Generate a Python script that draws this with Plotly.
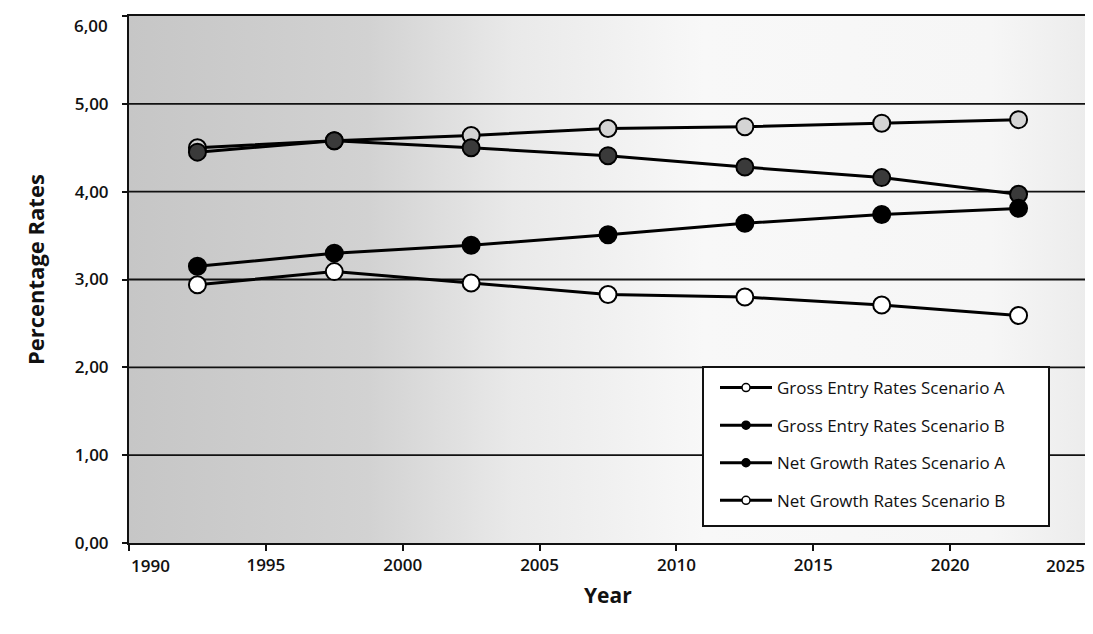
import plotly.graph_objects as go

years = [1992.5, 1997.5, 2002.5, 2007.5, 2012.5, 2017.5, 2022.5]
gross_entry_a = [4.50, 4.58, 4.64, 4.72, 4.74, 4.78, 4.82]
gross_entry_b = [4.45, 4.58, 4.50, 4.41, 4.28, 4.16, 3.97]
net_growth_a = [3.15, 3.30, 3.39, 3.51, 3.64, 3.74, 3.81]
net_growth_b = [2.94, 3.09, 2.96, 2.83, 2.80, 2.71, 2.59]

series_names = ["Gross Entry Rates Scenario A", "Gross Entry Rates Scenario B",
                "Net Growth Rates Scenario A", "Net Growth Rates Scenario B"]
series_values = [gross_entry_a, gross_entry_b, net_growth_a, net_growth_b]
marker_fills = ["#d4d4d4", "#3a3a3a", "#000000", "#ffffff"]
legend_fills = ["#ffffff", "#000000", "#000000", "#ffffff"]

x_ticks = [1990, 1995, 2000, 2005, 2010, 2015, 2020, 2025]
x_tick_labels = ["1990", "1995", "2000", "2005", "2010", "2015", "2020", "2025"]
y_ticks = [0, 1, 2, 3, 4, 5, 6]
y_tick_labels = ["0,00", "1,00", "2,00", "3,00", "4,00", "5,00", "6,00"]
x_range = [1990, 2025]
y_range = [0, 6]

FONT = "Open Sans"
INK = "#111111"

# the page body has an 8px margin: the figure is placed at (8, 8)
OFF = 8
FIG_W, FIG_H = 1093 - OFF, 634 - OFF

# target plot-area box in page pixels
px_l, px_r, px_t, px_b = 129, 1087, 16, 543
W, H = px_r - px_l, px_b - px_t
def fx(p): return (p - px_l) / W
def fy(p): return (px_b - p) / H

fig = go.Figure()

# shaded background of the plotting area
fig.add_trace(go.Scatter(
    x=[x_range[0], x_range[1], x_range[1], x_range[0], x_range[0]],
    y=[y_range[0], y_range[0], y_range[1], y_range[1], y_range[0]],
    mode="lines", line=dict(width=0), fill="toself",
    fillgradient=dict(type="horizontal",
                      colorscale=[[0, "#c6c6c6"], [0.25, "#d2d2d2"], [0.4, "#e9e9e9"],
                                  [0.6, "#f8f8f8"], [0.9, "#f6f6f6"], [1, "#ececec"]]),
    showlegend=False, hoverinfo="skip"))

# horizontal grid lines (above the background, below the series)
gx, gy = [], []
for v in y_ticks[1:-1]:
    gx += [x_range[0], x_range[1], None]
    gy += [v, v, None]
fig.add_trace(go.Scatter(x=gx, y=gy, mode="lines", line=dict(color=INK, width=1.8),
                         showlegend=False, hoverinfo="skip"))

for i, (name, vals, fillc) in enumerate(zip(series_names, series_values, marker_fills)):
    fig.add_trace(go.Scatter(
        x=years, y=vals, name=name, mode="lines+markers", showlegend=False,
        line=dict(color="#000000", width=3),
        marker=dict(size=17, color=fillc, line=dict(color="#000000", width=2)),
    ))

# legend entries with small markers, as in the original
for i, (name, fillc) in enumerate(zip(series_names, legend_fills)):
    fig.add_trace(go.Scatter(
        x=[None], y=[None], name=name, mode="lines+markers", legendgroup=f"g{i}",
        line=dict(color="#000000", width=3),
        marker=dict(size=8, color=fillc, line=dict(color="#000000", width=1.5)),
    ))

# legend frame
fig.add_shape(type="rect", xref="paper", yref="paper",
              x0=fx(703), x1=fx(1049), y0=fy(526), y1=fy(367),
              fillcolor="white", line=dict(color=INK, width=2), layer="above")

tickfont = dict(family=FONT, size=17, color=INK, weight=600)

# end labels are pulled inward like the original
x_inner = [t if 0 < k < len(x_tick_labels) - 1 else "" for k, t in enumerate(x_tick_labels)]
y_inner = [t if k < len(y_tick_labels) - 1 else "" for k, t in enumerate(y_tick_labels)]
end_labels = [
    dict(text=x_tick_labels[0], xref="x", yref="paper", x=x_ticks[0], y=fy(552),
         xanchor="left", yanchor="top", showarrow=False, font=tickfont),
    dict(text=x_tick_labels[-1], xref="x", yref="paper", x=x_ticks[-1], y=fy(552),
         xanchor="right", yanchor="top", showarrow=False, font=tickfont),
    dict(text=y_tick_labels[-1], xref="paper", yref="paper", x=fx(110), y=fy(26),
         xanchor="right", yanchor="middle", showarrow=False, font=tickfont),
]

fig.update_layout(
    width=FIG_W, height=FIG_H,
    margin=dict(l=px_l - OFF, r=FIG_W - (px_r - OFF), t=px_t - OFF, b=FIG_H - (px_b - OFF)),
    paper_bgcolor="white",
    plot_bgcolor="#dcdcdc",
    showlegend=True,
    legend=dict(x=fx(715), y=fy(370), xanchor="left", yanchor="top",
                bgcolor="rgba(0,0,0,0)", borderwidth=0,
                font=dict(family=FONT, size=17, color=INK),
                itemwidth=52,
                traceorder="grouped", tracegroupgap=12.5),
    xaxis=dict(range=x_range, tickvals=x_ticks, ticktext=x_inner, showgrid=False,
               zeroline=False, automargin=False,
               showline=True, linecolor=INK, linewidth=2, mirror=True,
               ticks="outside", ticklen=6, tickwidth=1.5, tickcolor=INK,
               tickfont=tickfont),
    yaxis=dict(range=y_range, tickvals=y_ticks, ticktext=y_inner, showgrid=False,
               automargin=False, ticklabelstandoff=10,
               zeroline=False, showline=True, linecolor=INK, linewidth=2, mirror=True,
               ticks="outside", ticklen=5, tickwidth=1.5, tickcolor=INK,
               tickfont=tickfont),
    annotations=end_labels + [
        dict(text="<b>Year</b>", xref="paper", yref="paper", x=0.5, y=fy(595),
             xanchor="center", yanchor="middle", showarrow=False,
             font=dict(family=FONT, size=21, color=INK)),
        dict(text="<b>Percentage Rates</b>", xref="paper", yref="paper", x=fx(35), y=fy(270),
             xanchor="center", yanchor="middle", showarrow=False, textangle=-90,
             font=dict(family=FONT, size=22, color=INK)),
    ],
)

fig.write_html("out.html")
